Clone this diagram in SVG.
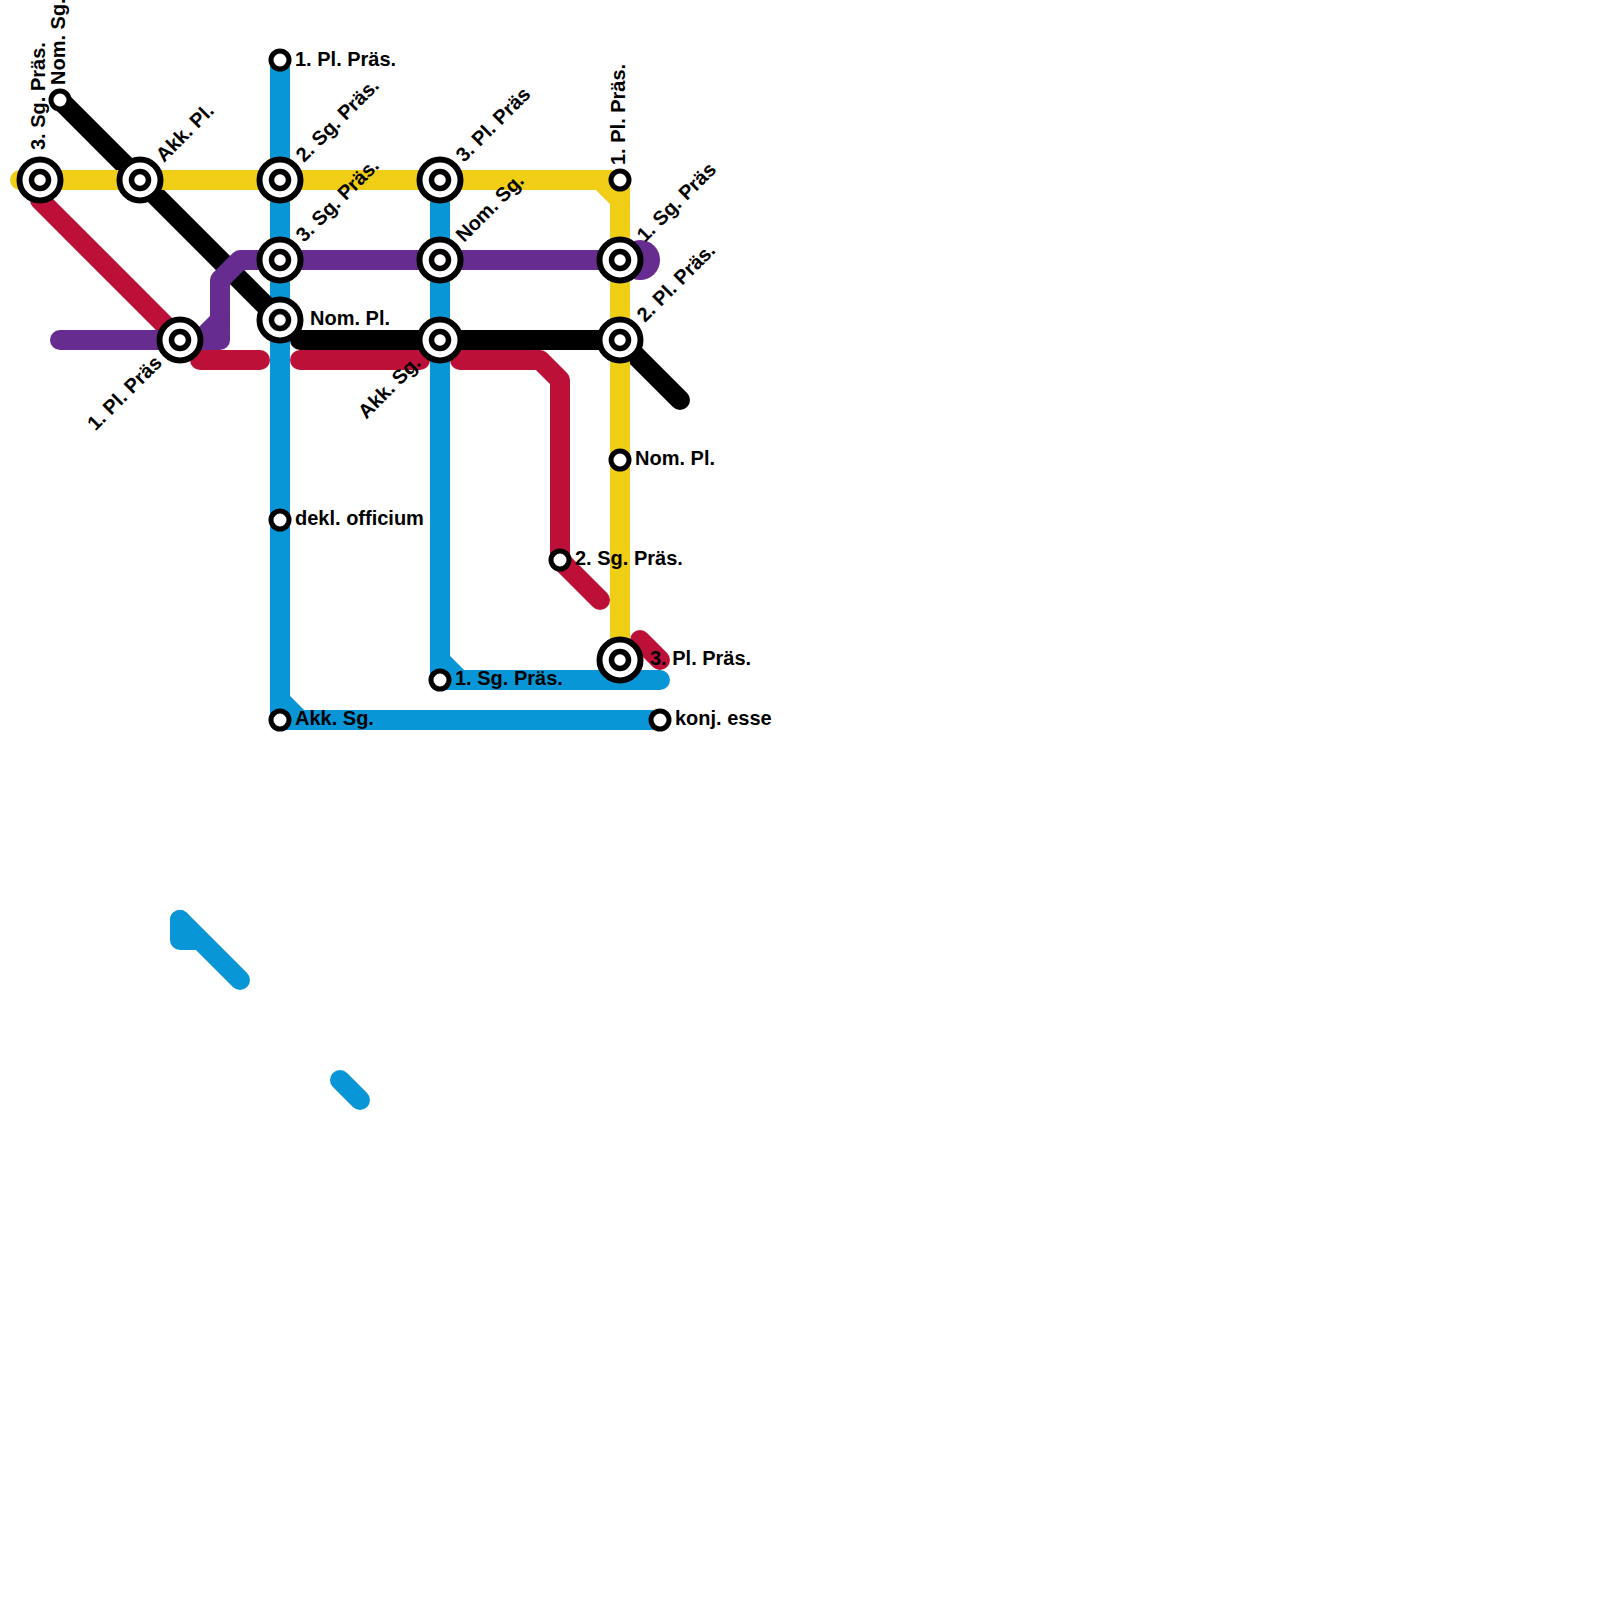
<svg xmlns="http://www.w3.org/2000/svg" width="1600" height="1600" viewBox="0 0 1600 1600">
<style>
.l{fill:none;stroke-width:20;stroke-linecap:round;stroke-linejoin:round}
.b{stroke:#0896d7}.y{stroke:#f0ce15}.k{stroke:#000}.p{stroke:#662c90}.r{stroke:#bd1038}
.o{fill:#fff;stroke:#000;stroke-width:6}
.i{fill:#fff;stroke:#000;stroke-width:5.5}
.s{fill:#fff;stroke:#000;stroke-width:5}
text{font-family:"Liberation Sans",Arial,Helvetica,sans-serif;font-weight:700;font-size:20px;fill:#000}
</style>
<rect width="1600" height="1600" fill="#fff"/>
<g id="connectors">
<path class="l b" d="M280 60V720H660"/>
<path class="l b" d="M280 700L300 720"/>
<path class="l b" d="M440 180V680H660"/>
<path class="l b" d="M440 660L460 680"/>
<path class="l b" d="M180 920L240 980"/>
<path class="l b" d="M180 920V940H190Z" style="fill:#0896d7"/>
<path d="M180 930H190L196 950H180Z" fill="#0896d7"/>
<path class="l b" d="M340 1080L360 1100"/>
<path class="l k" d="M60 100L280 320"/>
<path class="l k" d="M300 340H620L680 400"/>
<path class="l y" d="M20 180H620V660"/>
<path class="l y" d="M600 180L620 200"/>
<path class="l r" d="M40 200L170 330"/>
<path class="l r" d="M200 360H260"/>
<path class="l r" d="M300 360H420"/>
<path class="l r" d="M460 360H540L560 380V560L600 600"/>
<path class="l r" d="M640 640L660 660"/>
<path class="l p" d="M60 340H220V280L240 260H620"/>
<path class="l p" d="M200 340L220 320"/>
<circle cx="640" cy="260" r="20" fill="#662c90"/>
</g>
<g id="n1"><circle class="o" cx="40" cy="180" r="20.5"/><circle class="i" cx="40" cy="180" r="8.5"/><text transform="translate(45 150) rotate(-90)">3. Sg. Präs.</text></g>
<g id="n2"><circle class="s" cx="60" cy="100" r="9"/><text transform="translate(65 85) rotate(-90)">Nom. Sg.</text></g>
<g id="n3"><circle class="o" cx="140" cy="180" r="20.5"/><circle class="i" cx="140" cy="180" r="8.5"/><text transform="translate(164 163) rotate(-45)">Akk. Pl.</text></g>
<g id="n4"><circle class="s" cx="280" cy="60" r="9"/><text x="295" y="65.5">1. Pl. Präs.</text></g>
<g id="n5"><circle class="o" cx="280" cy="180" r="20.5"/><circle class="i" cx="280" cy="180" r="8.5"/><text transform="translate(304 163) rotate(-45)">2. Sg. Präs.</text></g>
<g id="n6"><circle class="o" cx="280" cy="260" r="20.5"/><circle class="i" cx="280" cy="260" r="8.5"/><text transform="translate(304 243) rotate(-45)">3. Sg. Präs.</text></g>
<g id="n7"><circle class="o" cx="280" cy="320" r="20.5"/><circle class="i" cx="280" cy="320" r="8.5"/><text x="310" y="324.5">Nom. Pl.</text></g>
<g id="n8"><circle class="o" cx="180" cy="340" r="20.5"/><circle class="i" cx="180" cy="340" r="8.5"/><text transform="translate(163 364) rotate(-45)" text-anchor="end">1. Pl. Präs</text></g>
<g id="n9"><circle class="o" cx="440" cy="180" r="20.5"/><circle class="i" cx="440" cy="180" r="8.5"/><text transform="translate(464 163) rotate(-45)">3. Pl. Präs</text></g>
<g id="n10"><circle class="o" cx="440" cy="260" r="20.5"/><circle class="i" cx="440" cy="260" r="8.5"/><text transform="translate(464 243) rotate(-45)">Nom. Sg.</text></g>
<g id="n11"><circle class="o" cx="440" cy="340" r="20.5"/><circle class="i" cx="440" cy="340" r="8.5"/><text transform="translate(422 364) rotate(-45)" text-anchor="end">Akk. Sg.</text></g>
<g id="n12"><circle class="s" cx="620" cy="180" r="9"/><text transform="translate(625 165) rotate(-90)">1. Pl. Präs.</text></g>
<g id="n13"><circle class="o" cx="620" cy="260" r="20.5"/><circle class="i" cx="620" cy="260" r="8.5"/><text transform="translate(645 243) rotate(-45)">1. Sg. Präs</text></g>
<g id="n14"><circle class="o" cx="620" cy="340" r="20.5"/><circle class="i" cx="620" cy="340" r="8.5"/><text transform="translate(645 323) rotate(-45)">2. Pl. Präs.</text></g>
<g id="n15"><circle class="s" cx="620" cy="460" r="9"/><text x="635" y="464.5">Nom. Pl.</text></g>
<g id="n16"><circle class="s" cx="280" cy="520" r="9"/><text x="295" y="524.5">dekl. officium</text></g>
<g id="n17"><circle class="s" cx="560" cy="560" r="9"/><text x="575" y="564.5">2. Sg. Präs.</text></g>
<g id="n18"><circle class="o" cx="620" cy="660" r="20.5"/><circle class="i" cx="620" cy="660" r="8.5"/><text x="650" y="664.5">3. Pl. Präs.</text></g>
<g id="n19"><circle class="s" cx="440" cy="680" r="9"/><text x="455" y="684.5">1. Sg. Präs.</text></g>
<g id="n20"><circle class="s" cx="280" cy="720" r="9"/><text x="295" y="724.5">Akk. Sg.</text></g>
<g id="n21"><circle class="s" cx="660" cy="720" r="9"/><text x="675" y="724.5">konj. esse</text></g>
</svg>
